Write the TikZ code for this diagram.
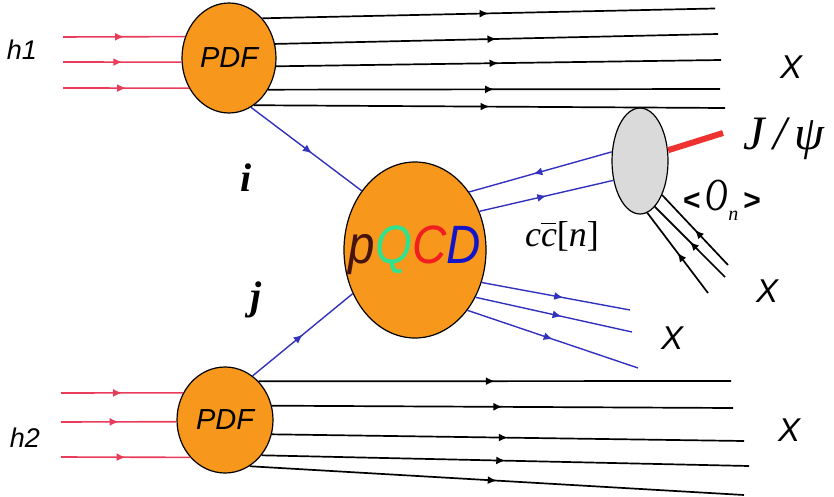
\documentclass[tikz,border=0pt]{standalone}
\usepackage{fontspec}
\setmainfont{Liberation Serif}
\newfontfamily\sansfont{Liberation Sans}
\usetikzlibrary{arrows.meta,shapes.geometric,decorations.markings}

\definecolor{blobfill}{RGB}{247,152,29}
\definecolor{hadgray}{RGB}{218,218,218}
\definecolor{beamred}{RGB}{232,60,90}
\definecolor{partonblue}{RGB}{50,50,190}
\definecolor{mesonred}{RGB}{238,50,50}
\definecolor{pdark}{RGB}{70,20,10}
\definecolor{qgreen}{RGB}{50,225,140}
\definecolor{qred}{RGB}{240,30,30}
\definecolor{qblue}{RGB}{20,20,200}

\tikzset{
    blob/.style={ellipse, draw=black, line width=1.2pt, fill=blobfill, inner sep=0pt},
    hadron/.style={ellipse, draw=black, line width=1.2pt, fill=hadgray, inner sep=0pt},
    beam/.style={draw=beamred, line width=1.6pt},
    spectator/.style={draw=black, line width=1.7pt},
    parton/.style={draw=partonblue, line width=1.4pt},
    meson/.style={draw=mesonred, line width=6pt},
    fwdarrow/.style={postaction={decorate}, decoration={markings,
        mark=at position #1 with {\arrow{Latex[length=9pt,width=8pt]}}}},
    fwdarrow/.default=0.5,
    bckarrow/.style={postaction={decorate}, decoration={markings,
        mark=at position #1 with {\arrowreversed{Latex[length=9pt,width=8pt]}}}},
    bckarrow/.default=0.5,
    sanstag/.style={font=\sansfont\itshape\fontsize{27}{28}\selectfont},
    xtag/.style={font=\sansfont\itshape\fontsize{33}{34}\selectfont},
}

\begin{document}
\begin{tikzpicture}[x=1pt,y=1pt]
    \useasboundingbox (0,0) rectangle (834,496);

    % The blobs
    \node[blob, minimum width=94, minimum height=110] (pdfA) at (229,438) {\sansfont\itshape\fontsize{29}{30}\selectfont PDF};
    \node[blob, minimum width=96, minimum height=106] (pdfB) at (225,76) {\sansfont\itshape\fontsize{29}{30}\selectfont PDF};
    \node[blob, minimum width=142, minimum height=176] (pq) at (415,246) {};
    \node (pqtext) at (pq.center) {\scalebox{0.88}[1]{\sansfont\itshape\fontsize{54}{56}\selectfont
        \textcolor{pdark}{p}\textcolor{qgreen}{Q}\textcolor{qred}{C}\textcolor{qblue}{D}}};
    \node[hadron, minimum width=56, minimum height=106] (had) at (640,335) {};

    % Incoming hadrons
    \node[sanstag] (h1) at (22,446) {h1};
    \node[sanstag] (h2) at (25,58) {h2};
    \coordinate (inA1) at (63,459);
    \coordinate (inA2) at (63,434);
    \coordinate (inA3) at (63,408);
    \coordinate (inB1) at (61,103);
    \coordinate (inB2) at (61,74);
    \coordinate (inB3) at (61,39);
    \draw[beam, fwdarrow] (inA1) -- (pdfA.154);
    \draw[beam, fwdarrow] (inA2) -- (pdfA.185);
    \draw[beam, fwdarrow] (inA3) -- (pdfA.217);
    \draw[beam, fwdarrow] (inB1) -- (pdfB.147);
    \draw[beam, fwdarrow] (inB2) -- (pdfB.182);
    \draw[beam, fwdarrow] (inB3) -- (pdfB.227);

    % Spectator lines of both hadrons
    \foreach \i/\a/\ex/\ey in {1/50/715/487.5, 2/17/718/462, 3/350/721/436, 4/321/720/407, 5/298/725/388}{
        \coordinate (outA\i) at (\ex,\ey);
        \draw[spectator, fwdarrow] (pdfA.\a) -- (outA\i);
    }
    \foreach \i/\a/\ex/\ey in {1/49/731/115, 2/17/733/88, 3/343/744/55, 4/316/749/30, 5/298/744/1}{
        \coordinate (outB\i) at (\ex,\ey);
        \draw[spectator, fwdarrow] (pdfB.\a) -- (outB\i);
    }
    \node[xtag] (xA) at (791,429) {X};
    \node[xtag] (xB) at (789,66) {X};

    % Partons into the hard process
    \draw[parton, fwdarrow=0.55] (pdfA.294) -- (pq.132);
    \draw[parton, fwdarrow=0.5] (pdfB.58) -- (pq.215);
    \node (ilab) at (246,318) {\bfseries\itshape\fontsize{40}{40}\selectfont i};
    \node (jlab) at (256,196) {\bfseries\itshape\fontsize{40}{40}\selectfont j};

    % The c cbar pair and the rest of the hard process
    \draw[parton, bckarrow=0.45] (pq.47) -- (had.162);
    \draw[parton, fwdarrow=0.5] (pq.31) -- (had.216);
    \node (ccn) at (562,260) {\fontsize{36}{38}\selectfont\itshape c\makebox[0pt][l]{\raisebox{0.6em}{\rule{0.42em}{1.3pt}}}c\upshape[\itshape n\upshape]};
    \coordinate (outQ1) at (630,186);
    \coordinate (outQ2) at (632,164);
    \coordinate (outQ3) at (638,128);
    \draw[parton, fwdarrow=0.55] (pq.334) -- (outQ1);
    \draw[parton, fwdarrow=0.55] (pq.322) -- (outQ2);
    \draw[parton, fwdarrow=0.5] (pq.311) -- (outQ3);
    \node[xtag] (xQ) at (672,158) {X};

    % Hadronisation into J/psi
    \coordinate (psiend) at (723,363);
    \draw[meson] (had.21) -- (psiend);
    \node (psi) at (784,357) {\fontsize{48}{50}\selectfont\itshape J\,/\,ψ};
    \node (ome) at (722,296) {\sansfont\bfseries\fontsize{30}{30}\selectfont
        <\,{\rmfamily\mdseries\itshape\fontsize{46}{46}\selectfont\scalebox{0.68}[1]{O}}\raisebox{-10pt}{\rmfamily\mdseries\itshape\fontsize{20}{20}\selectfont n}\,>};
    \coordinate (outH1) at (728,231);
    \coordinate (outH2) at (725,219);
    \coordinate (outH3) at (708,203);
    \draw[spectator, bckarrow] (had.303) -- (outH1);
    \draw[spectator, bckarrow] (had.288) -- (outH2);
    \draw[spectator, bckarrow] (had.278) -- (outH3);
    \node[xtag] (xH) at (767,205) {X};

\end{tikzpicture}
\end{document}
